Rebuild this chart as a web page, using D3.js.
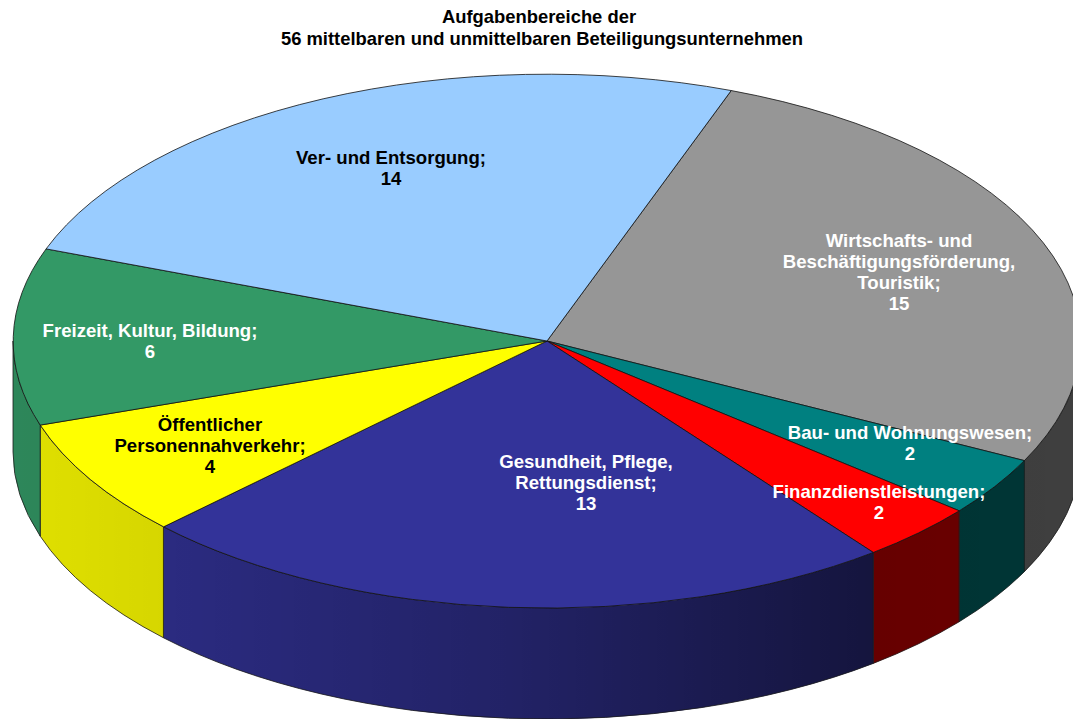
<!DOCTYPE html>
<html><head><meta charset="utf-8">
<script src="https://cdn.jsdelivr.net/npm/d3@7"></script>
<style>html,body{margin:0;padding:0;background:#fff;overflow:hidden}svg{display:block}text{font-family:"Liberation Sans",Arial,sans-serif;font-weight:bold}</style>
</head><body><svg id="c" width="1073" height="719"></svg>
<script>
const titleLines = ["Aufgabenbereiche der", "56 mittelbaren und unmittelbaren Beteiligungsunternehmen"];
const categories = ["Wirtschafts- und Beschäftigungsförderung, Touristik", "Bau- und Wohnungswesen", "Finanzdienstleistungen", "Gesundheit, Pflege, Rettungsdienst", "Öffentlicher Personennahverkehr", "Freizeit, Kultur, Bildung", "Ver- und Entsorgung"];
const values = [15, 2, 2, 13, 4, 6, 14];
const colors = ["#969696", "#008080", "#ff0000", "#333399", "#ffff00", "#339966", "#99ccff"];
const labelLines = [
  ["Wirtschafts- und", "Beschäftigungsförderung,", "Touristik;", "15"],
  ["Bau- und Wohnungswesen;", "2"],
  ["Finanzdienstleistungen;", "2"],
  ["Gesundheit, Pflege,", "Rettungsdienst;", "13"],
  ["Öffentlicher", "Personennahverkehr;", "4"],
  ["Freizeit, Kultur, Bildung;", "6"],
  ["Ver- und Entsorgung;", "14"]
];
const labelColors = ["#fff", "#fff", "#fff", "#fff", "#000", "#fff", "#000"];
// layout
const labelAnchors = [[899,247],[910,439],[879,498],[586,468],[210,431],[150,337],[391,164]];
const titleCenters = [539, 542];
const cx = 547, cy = 341, rx = 534, ry = 267, depth = 111;
const start = 20.2 * Math.PI / 180;

const svg = d3.select("#c");
const defs = svg.append("defs");
const pie = d3.pie().sort(null).startAngle(start).endAngle(start + 2 * Math.PI);
const arcs = pie(values);
const px = a => cx + rx * Math.sin(a), py = a => cy - ry * Math.cos(a);

// horizontal shading of the side wall
const grad = defs.append("linearGradient").attr("id", "shade").attr("gradientUnits", "userSpaceOnUse")
  .attr("x1", 13).attr("x2", 1079).attr("y1", 0).attr("y2", 0);
[[0, .12], [.14, .16], [.46, .33], [.81, .6], [1, .58]].forEach(([o, a]) =>
  grad.append("stop").attr("offset", o).attr("stop-color", "#000").attr("stop-opacity", a));

// side walls: only the front half of the rim is visible
const wallPath = d => {
  const lo = Math.PI / 2, hi = 3 * Math.PI / 2;
  const a = Math.max(d.startAngle, lo), b = Math.min(d.endAngle, hi);
  if (b <= a) return null;
  return `M${px(a)},${py(a)}A${rx},${ry} 0 0 1 ${px(b)},${py(b)}L${px(b)},${py(b) + depth}A${rx},${ry} 0 0 0 ${px(a)},${py(a) + depth}Z`;
};
const walls = svg.append("g").selectAll("g").data(arcs.filter(wallPath)).join("g");
walls.append("path").attr("d", wallPath).attr("fill", d => colors[d.index]);
walls.append("path").attr("d", wallPath).attr("fill", "url(#shade)").attr("stroke", "#1a1a1a").attr("stroke-width", .8);

// top face
const arc = d3.arc().innerRadius(0).outerRadius(1);
svg.append("g").attr("transform", `translate(${cx},${cy}) scale(${rx},${ry})`)
  .selectAll("path").data(arcs).join("path")
  .attr("d", arc).attr("fill", d => colors[d.index])
  .attr("stroke", "#111").attr("stroke-width", .8).attr("vector-effect", "non-scaling-stroke");

// title
svg.append("g").selectAll("text").data(titleLines).join("text")
  .attr("x", (d, i) => titleCenters[i]).attr("y", (d, i) => 23 + i * 21.5)
  .attr("text-anchor", "middle").attr("font-size", 18.4).attr("fill", "#000").text(d => d);

// labels
const lab = svg.append("g").selectAll("text").data(arcs).join("text")
  .attr("text-anchor", "middle").attr("font-size", 18.6).attr("fill", d => labelColors[d.index]);
lab.selectAll("tspan").data(d => labelLines[d.index].map(t => ({t, i: d.index}))).join("tspan")
  .attr("x", d => labelAnchors[d.i][0])
  .attr("y", (d, j) => labelAnchors[d.i][1] + j * 21)
  .text(d => d.t);
</script></body></html>
